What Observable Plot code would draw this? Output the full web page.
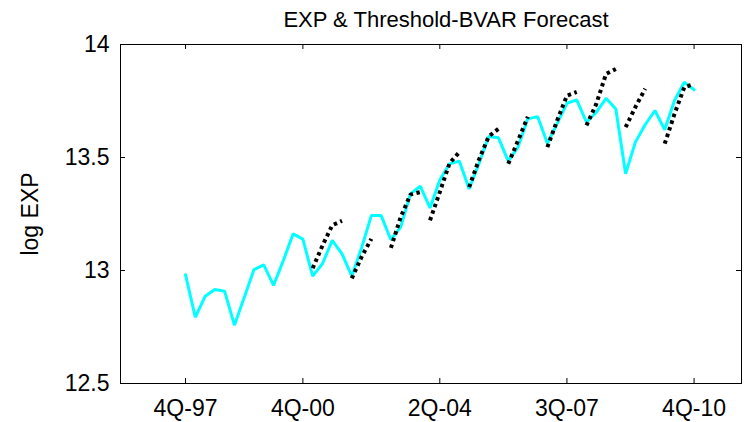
<!DOCTYPE html>
<html>
<head>
<meta charset="utf-8">
<script src="https://cdn.jsdelivr.net/npm/d3@7"></script>
<script src="https://cdn.jsdelivr.net/npm/@observablehq/plot@0.6"></script>
<style>
  html, body { margin: 0; padding: 0; background: #fff; }
</style>
</head>
<body>
<div id="chart"></div>
<script>
// Quarterly log exports, 4Q-97 (index 0) through 4Q-10 (index 52)
const expActual = [
  12.981, 12.793, 12.886, 12.916, 12.908, 12.758, 12.880, 13.004, 13.025, 12.934,
  13.044, 13.162, 13.139, 12.975, 13.030, 13.133, 13.074, 12.975, 13.100, 13.243,
  13.243, 13.136, 13.192, 13.339, 13.373, 13.277, 13.400, 13.472, 13.484, 13.361,
  13.472, 13.593, 13.587, 13.484, 13.546, 13.671, 13.681, 13.563, 13.650, 13.740,
  13.755, 13.656, 13.700, 13.762, 13.715, 13.428, 13.568, 13.645, 13.708, 13.623,
  13.752, 13.833, 13.800
];

// Threshold-BVAR forecast paths: first quarter index of each path and its values
const fcStart = [13, 17, 21, 25, 29, 33, 37, 41, 45, 49];
const fcValues = [
  [13.010, 13.110, 13.200, 13.220],
  [12.965, 13.060, 13.140],
  [13.100, 13.236, 13.336, 13.347],
  [13.222, 13.347, 13.475, 13.524],
  [13.369, 13.490, 13.593, 13.627],
  [13.472, 13.575, 13.680],
  [13.546, 13.664, 13.774, 13.790],
  [13.642, 13.737, 13.870, 13.892],
  [13.634, 13.723, 13.804],
  [13.561, 13.693, 13.811, 13.825]
];

// Axis ticks
const tickQuarters = [0, 12, 26, 39, 52];
const tickLabels = ["4Q-97", "4Q-00", "2Q-04", "3Q-07", "4Q-10"];
const yTicks = [12.5, 13, 13.5, 14];

const titleText = "EXP & Threshold-BVAR Forecast";
const yLabel = "log EXP";

const actualRows = expActual.map((v, i) => ({q: i, v}));
const forecastRows = fcStart.flatMap((s, k) => fcValues[k].map((v, j) => ({q: s + j, v, path: k})));

const W = 744, H = 422;
const mL = 120, mR = 3, mT = 44, mB = 39;
const frameW = W - mL - mR, frameH = H - mT - mB;
const tickLen = 5;

const chart = Plot.plot({
  width: W,
  height: H,
  marginLeft: mL,
  marginRight: mR,
  marginTop: mT,
  marginBottom: mB,
  style: {
    fontFamily: "'Liberation Sans', Arial, sans-serif",
    fontSize: "23px",
    background: "white",
    color: "black",
    overflow: "visible"
  },
  x: {type: "linear", domain: [-6.65, 56.85]},
  y: {type: "linear", domain: [12.5, 14]},
  marks: [
    // tick labels
    Plot.axisX(tickQuarters, {
      anchor: "bottom",
      tickSize: 0,
      tickPadding: 16,
      tickFormat: (q) => tickLabels[tickQuarters.indexOf(q)],
      label: null
    }),
    Plot.axisY(yTicks, {anchor: "left", tickSize: 0, tickPadding: 11, tickFormat: (d) => String(d), label: null}),
    // inward tick marks on all four sides
    Plot.tickX(tickQuarters, {x: (d) => d, insetTop: frameH - tickLen, stroke: "black"}),
    Plot.tickX(tickQuarters, {x: (d) => d, insetBottom: frameH - tickLen, stroke: "black"}),
    Plot.tickY(yTicks, {y: (d) => d, insetRight: frameW - tickLen, stroke: "black"}),
    Plot.tickY(yTicks, {y: (d) => d, insetLeft: frameW - tickLen, stroke: "black"}),
    // actual series
    Plot.line(actualRows, {x: "q", y: "v", stroke: "#00FFFF", strokeWidth: 3, strokeLinejoin: "miter"}),
    // forecast paths
    Plot.line(forecastRows, {
      x: "q", y: "v", z: "path",
      stroke: "black", strokeWidth: 4,
      strokeDasharray: "3.5,3.5", strokeLinecap: "butt"
    }),
    Plot.frame({stroke: "black", strokeWidth: 1}),
    // title and y label
    Plot.text([titleText], {frameAnchor: "top", dx: 15, dy: -18, lineAnchor: "bottom", fontSize: 22}),
    Plot.text([yLabel], {frameAnchor: "left", rotate: -90, dx: -83, lineAnchor: "bottom", textAnchor: "middle"})
  ]
});

document.getElementById("chart").appendChild(chart);
</script>
</body>
</html>
